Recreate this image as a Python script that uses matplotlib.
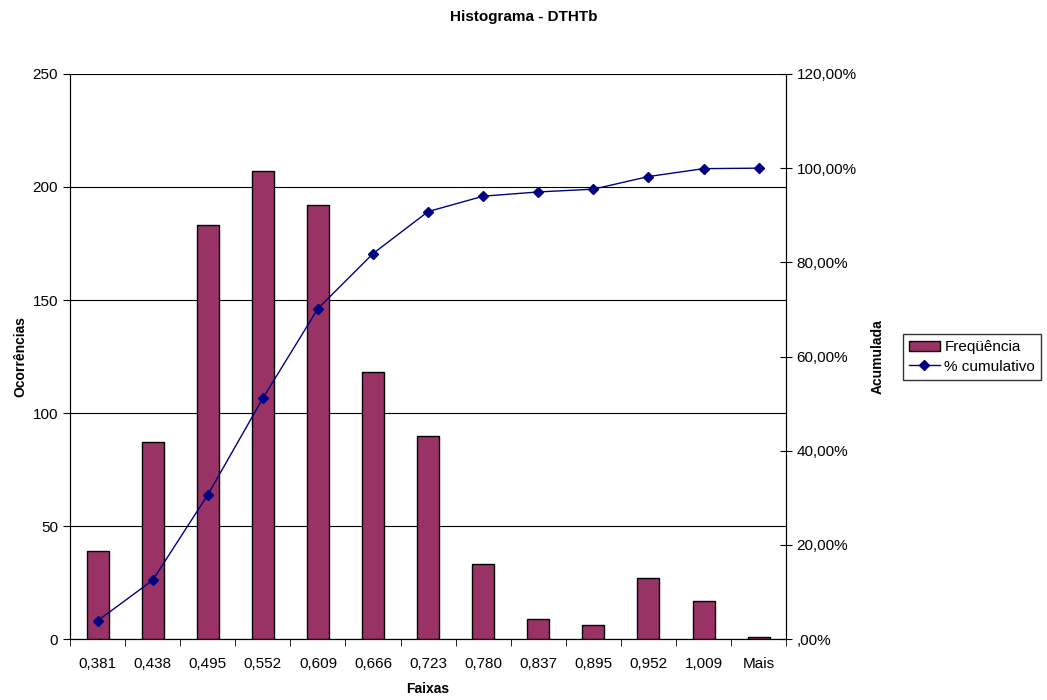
import matplotlib.pyplot as plt
from matplotlib.ticker import FixedLocator

plt.rcParams['font.family'] = ['Liberation Sans', 'DejaVu Sans']

faixas = ['0,381', '0,438', '0,495', '0,552', '0,609', '0,666', '0,723',
          '0,780', '0,837', '0,895', '0,952', '1,009', 'Mais']
frequencia = [39, 87, 183, 207, 192, 118, 90, 33, 9, 6, 27, 17, 1]
cumulativo = [3.87, 12.49, 30.62, 51.14, 70.17, 81.86, 90.78,
              94.05, 94.95, 95.54, 98.22, 99.90, 100.00]

fig = plt.figure(figsize=(10.47, 7), dpi=100)
ax = fig.add_axes([0.0669, 0.0871, 0.684, 0.8072])
ax2 = ax.twinx()

x = list(range(len(faixas)))
ax.bar(x, frequencia, width=0.4, color='#993366', edgecolor='black',
       linewidth=1, label='Freqüência', zorder=3)
ax.set_xlim(-0.5, len(faixas) - 0.5)
ax.set_ylim(0, 250)
ax.set_yticks([0, 50, 100, 150, 200, 250])
ax.grid(axis='y', color='black', linewidth=0.8, zorder=0)
ax.set_xticks(x)
ax.set_xticklabels(faixas, fontsize=11)
ax.tick_params(axis='x', length=0, pad=13)
ax.xaxis.set_minor_locator(FixedLocator([i + 0.5 for i in range(-1, len(faixas))]))
ax.tick_params(axis='x', which='minor', length=5, direction='out')
ax.tick_params(axis='y', labelsize=11, length=5)
ax.set_xlabel('Faixas', fontsize=10, fontweight='bold', labelpad=8)
ax.set_ylabel('Ocorrências', fontsize=10, fontweight='bold', labelpad=4)
ax.spines['top'].set_visible(False)

ln, = ax2.plot(x, cumulativo, color='#000080', marker='D', markersize=5,
               linewidth=1, label='% cumulativo', zorder=4)
ax2.set_ylim(0, 120)
ax2.set_yticks([0, 20, 40, 60, 80, 100, 120])
ax2.set_yticklabels([(',00%' if v == 0 else f'{v:.2f}'.replace('.', ',') + '%')
                     for v in [0, 20, 40, 60, 80, 100, 120]], fontsize=11)
ax2.tick_params(axis='y', direction='inout', length=8)
ax2.set_ylabel('Acumulada', fontsize=10, fontweight='bold', labelpad=10)
ax2.spines['top'].set_visible(False)
ax.set_zorder(ax2.get_zorder() - 1)
ax.patch.set_visible(True)
ax2.patch.set_visible(False)

fig.suptitle('Histograma - DTHTb', fontsize=11, fontweight='bold', y=0.985)

h1, l1 = ax.get_legend_handles_labels()
h2, l2 = ax2.get_legend_handles_labels()
leg = fig.legend(h1 + h2, l1 + l2, loc='center left', bbox_to_anchor=(0.8625, 0.49),
                 fontsize=11, frameon=True, fancybox=False, edgecolor='black',
                 handlelength=2.0, borderpad=0.4, labelspacing=0.35,
                 handletextpad=0.3, borderaxespad=0)
leg.get_frame().set_linewidth(1)

fig.savefig('out.png', dpi=100)
